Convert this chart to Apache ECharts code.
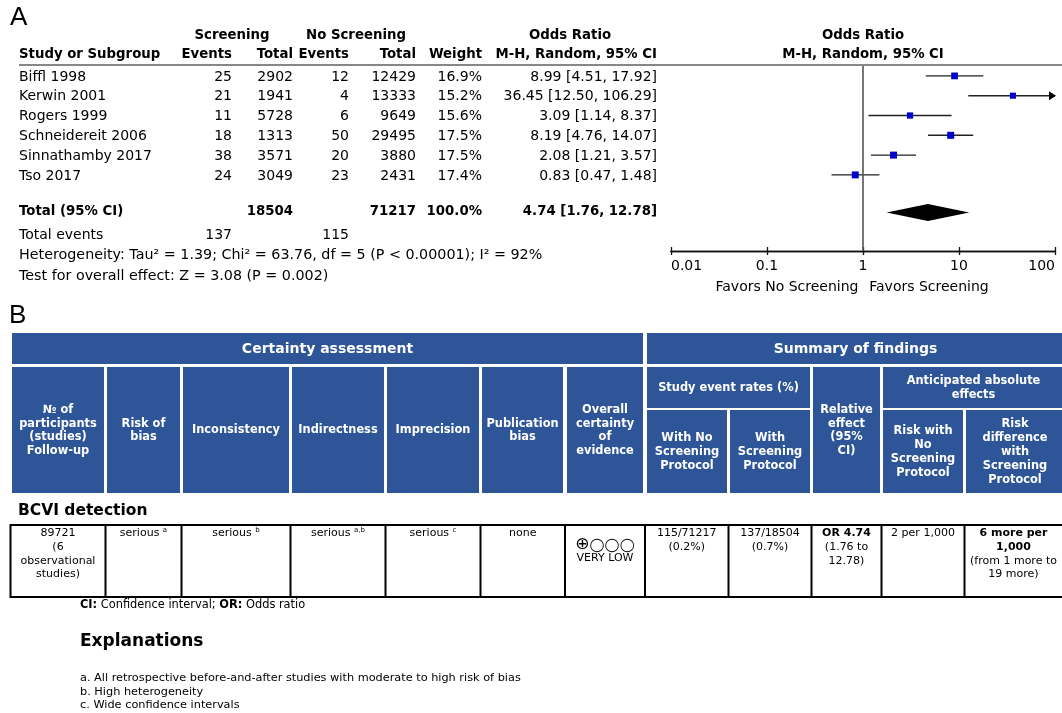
<!DOCTYPE html>
<html><head><meta charset="utf-8">
<script src="https://cdn.jsdelivr.net/npm/echarts@6/dist/echarts.min.js"></script>
<style>html,body{margin:0;padding:0;background:#fff}#c{width:1062px;height:713px}</style>
</head><body><div id="c"></div>
<script>
// ---------- data ----------
const studies   = ['Biffl 1998','Kerwin 2001','Rogers 1999','Schneidereit 2006','Sinnathamby 2017','Tso 2017'];
const scrEvents = [25,21,11,18,38,24];
const scrTotal  = [2902,1941,5728,1313,3571,3049];
const noEvents  = [12,4,6,50,20,23];
const noTotal   = [12429,13333,9649,29495,3880,2431];
const weights   = [16.9,15.2,15.6,17.5,17.5,17.4];
const orEst     = [8.99,36.45,3.09,8.19,2.08,0.83];
const orLo      = [4.51,12.50,1.14,4.76,1.21,0.47];
const orHi      = [17.92,106.29,8.37,14.07,3.57,1.48];
const pooledOR  = [4.74,1.76,12.78];          // estimate, lower, upper
const hetero    = ['1.39','63.76','5','0.00001','92'];
const overall   = ['3.08','0.002'];
const xTickValues = [0.01,0.1,1,10,100];
const xTickLabels = ['0.01','0.1','1','10','100'];
const certCols = ['№ of\nparticipants\n(studies)\nFollow-up','Risk of\nbias','Inconsistency','Indirectness','Imprecision','Publication\nbias','Overall\ncertainty\nof\nevidence'];
const sumCols  = ['Study event rates (%)','With No\nScreening\nProtocol','With\nScreening\nProtocol','Relative\neffect\n(95%\nCI)','Anticipated absolute\neffects','Risk with\nNo\nScreening\nProtocol','Risk\ndifference\nwith\nScreening\nProtocol'];
const outcomeName = 'BCVI detection';
const gradeRow = ['89721\n(6\nobservational\nstudies)','serious {s|a}','serious {s|b}','serious {s|a,b}','serious {s|c}','none','{p|⊕}{o|◯◯◯}','115/71217\n(0.2%)','137/18504\n(0.7%)','{b|OR 4.74}\n(1.76 to\n12.78)','2 per 1,000','{b|6 more per}\n{b|1,000}\n(from 1 more to\n19 more)'];
const certaintyLabel = 'VERY LOW';
const explanations = ['a. All retrospective before-and-after studies with moderate to high risk of bias','b. High heterogeneity','c. Wide confidence intervals'];

// ---------- helpers ----------
const FF = '"DejaVu Sans", Verdana, sans-serif';
function txt(x, y, text, o) {
  o = o || {};
  const st = {
    text: text, x: 0, y: 0,
    fill: o.color || '#000',
    fontFamily: o.family || FF,
    fontSize: o.size || 14,
    fontWeight: o.bold ? 'bold' : 'normal',
    align: o.align || 'left', textAlign: o.align || 'left',
    verticalAlign: o.valign || 'middle', textVerticalAlign: o.valign || 'middle'
  };
  if (o.lineHeight) st.lineHeight = o.lineHeight;
  if (o.rich) st.rich = o.rich;
  return {type: 'text', x: x, y: y, silent: true, z: 10, style: st};
}
function rect(x0, y0, x1, y1, style) {
  return {type: 'rect', silent: true, z: 1, shape: {x: x0, y: y0, width: x1 - x0, height: y1 - y0}, style: style};
}
function line(x1, y1, x2, y2, w, c) {
  return {type: 'line', silent: true, z: 2, shape: {x1: x1, y1: y1, x2: x2, y2: y2}, style: {stroke: c || '#000', lineWidth: w || 1}};
}

const g = [];
// ---------- panel A: table ----------
g.push(txt(10, 18, 'A', {family: '"Liberation Sans", Arial, sans-serif', size: 26}));
const HB = {bold: true, size: 13.3};
g.push(txt(232, 36, 'Screening', Object.assign({align: 'center'}, HB)));
g.push(txt(356, 36, 'No Screening', Object.assign({align: 'center'}, HB)));
g.push(txt(570, 36, 'Odds Ratio', Object.assign({align: 'center'}, HB)));
g.push(txt(863, 36, 'Odds Ratio', Object.assign({align: 'center'}, HB)));
const colX = {ev1: 232, tot1: 293, ev2: 349, tot2: 416, wt: 482, ci: 657};
const y2 = 55;
g.push(txt(19, y2, 'Study or Subgroup', HB));
g.push(txt(colX.ev1, y2, 'Events', Object.assign({align: 'right'}, HB)));
g.push(txt(colX.tot1, y2, 'Total', Object.assign({align: 'right'}, HB)));
g.push(txt(colX.ev2, y2, 'Events', Object.assign({align: 'right'}, HB)));
g.push(txt(colX.tot2, y2, 'Total', Object.assign({align: 'right'}, HB)));
g.push(txt(colX.wt, y2, 'Weight', Object.assign({align: 'right'}, HB)));
g.push(txt(colX.ci, y2, 'M-H, Random, 95% CI', Object.assign({align: 'right'}, HB)));
g.push(txt(863, y2, 'M-H, Random, 95% CI', Object.assign({align: 'center'}, HB)));
g.push(line(19, 65, 1062, 65, 1.2, '#111'));

const R = {size: 14};
const rowStep = 19.8;
studies.forEach(function (s, i) {
  const y = 76.9 + i * rowStep;
  g.push(txt(19, y, s, R));
  g.push(txt(colX.ev1, y, String(scrEvents[i]), Object.assign({align: 'right'}, R)));
  g.push(txt(colX.tot1, y, String(scrTotal[i]), Object.assign({align: 'right'}, R)));
  g.push(txt(colX.ev2, y, String(noEvents[i]), Object.assign({align: 'right'}, R)));
  g.push(txt(colX.tot2, y, String(noTotal[i]), Object.assign({align: 'right'}, R)));
  g.push(txt(colX.wt, y, weights[i].toFixed(1) + '%', Object.assign({align: 'right'}, R)));
  g.push(txt(colX.ci, y, orEst[i].toFixed(2) + ' [' + orLo[i].toFixed(2) + ', ' + orHi[i].toFixed(2) + ']', Object.assign({align: 'right'}, R)));
});
const sum = function (a) { return a.reduce(function (p, c) { return p + c; }, 0); };
const yT = 212;
g.push(txt(19, yT, 'Total (95% CI)', HB));
g.push(txt(colX.tot1, yT, String(sum(scrTotal)), Object.assign({align: 'right'}, HB)));
g.push(txt(colX.tot2, yT, String(sum(noTotal)), Object.assign({align: 'right'}, HB)));
g.push(txt(colX.wt, yT, '100.0%', Object.assign({align: 'right'}, HB)));
g.push(txt(colX.ci, yT, pooledOR[0].toFixed(2) + ' [' + pooledOR[1].toFixed(2) + ', ' + pooledOR[2].toFixed(2) + ']', Object.assign({align: 'right'}, HB)));
g.push(txt(19, 235, 'Total events', R));
g.push(txt(colX.ev1, 235, String(sum(scrEvents)), Object.assign({align: 'right'}, R)));
g.push(txt(colX.ev2, 235, String(sum(noEvents)), Object.assign({align: 'right'}, R)));
g.push(txt(19, 255, 'Heterogeneity: Tau² = ' + hetero[0] + '; Chi² = ' + hetero[1] + ', df = ' + hetero[2] + ' (P < ' + hetero[3] + '); I² = ' + hetero[4] + '%', {size: 14.3}));
g.push(txt(19, 276, 'Test for overall effect: Z = ' + overall[0] + ' (P = ' + overall[1] + ')', {size: 14.3}));
g.push(txt(787, 287, 'Favors No Screening', Object.assign({align: 'center'}, R)));
g.push(txt(929, 287, 'Favors Screening', Object.assign({align: 'center'}, R)));

// ---------- panel B: GRADE table ----------
g.push(txt(9, 316, 'B', {family: '"Liberation Sans", Arial, sans-serif', size: 26}));
const BLUE = '#2E5597';
const RIGHT = 1064;
const hdr = [
  [12, 333, 643, 364, 'Certainty assessment', 14],
  [647, 333, RIGHT, 364, 'Summary of findings', 14],
  [12, 367, 104, 493, certCols[0]],
  [107, 367, 180, 493, certCols[1]],
  [183, 367, 289, 493, certCols[2]],
  [292, 367, 384, 493, certCols[3]],
  [387, 367, 479, 493, certCols[4]],
  [482, 367, 563, 493, certCols[5]],
  [567, 367, 643, 493, certCols[6]],
  [647, 367, 810, 408, sumCols[0]],
  [647, 410, 727, 493, sumCols[1]],
  [730, 410, 810, 493, sumCols[2]],
  [813, 367, 880, 493, sumCols[3]],
  [883, 367, RIGHT, 408, sumCols[4]],
  [883, 410, 963, 493, sumCols[5]],
  [966, 410, RIGHT, 493, sumCols[6]]
];
hdr.forEach(function (h) {
  g.push(rect(h[0], h[1], h[2], h[3], {fill: BLUE}));
  const cx = (h[0] + Math.min(h[2], 1064)) / 2;
  g.push(txt(cx, (h[1] + h[3]) / 2 + 0.5, h[4], {align: 'center', bold: true, size: h[5] || 11.4, lineHeight: 13.8, color: '#fff'}));
});

g.push(txt(18, 510.5, outcomeName, {bold: true, size: 15.5}));
const boxT = 525, boxB = 597;
g.push(rect(10.5, boxT, RIGHT, boxB, {fill: 'none', stroke: '#000', lineWidth: 2}));
const divX = [105.5, 181.5, 290.5, 385.5, 480.5, 565, 645, 728.5, 811.5, 881.5, 964.5];
divX.forEach(function (x) { g.push(line(x, boxT, x, boxB, 2, '#000')); });
const cellEdges = [10.5].concat(divX, [1062.5]);
const LH = 13.7;
const richSt = {
  b: {fontFamily: FF, fontSize: 11, fontWeight: 'bold', lineHeight: LH},
  s: {fontFamily: FF, fontSize: 7, lineHeight: 7, verticalAlign: 'top'},
  p: {fontFamily: FF, fontSize: 17, lineHeight: 17},
  o: {fontFamily: FF, fontSize: 13.5, lineHeight: 17}
};
gradeRow.forEach(function (t, i) {
  const cx = (cellEdges[i] + cellEdges[i + 1]) / 2;
  if (i === 6) {
    g.push(txt(cx, 545, t, {align: 'center', size: 13.5, rich: richSt}));
    g.push(txt(cx, 558, certaintyLabel, {align: 'center', size: 11}));
  } else {
    g.push(txt(cx, 533.5 - LH / 2, t, {align: 'center', valign: 'top', size: 11, lineHeight: LH, rich: richSt}));
  }
});

g.push(txt(80, 605, '{b|CI:} Confidence interval; {b|OR:} Odds ratio', {size: 11.4, lineHeight: 13, rich: {b: {fontFamily: FF, fontSize: 11.4, fontWeight: 'bold', lineHeight: 13}}}));
g.push(txt(80, 642, 'Explanations', {bold: true, size: 17}));
explanations.forEach(function (e, i) { g.push(txt(80, [678, 692, 705][i], e, {size: 11.3})); });

// ---------- forest plot ----------
const totalRow = 6.9;
const fmt = function (v) {
  const i = xTickValues.findIndex(function (t) { return Math.abs(t - v) / t < 1e-6; });
  return i >= 0 ? xTickLabels[i] : '';
};
const axBase = {
  type: 'log', logBase: 10, min: 0.01, max: 100, gridIndex: 0, position: 'bottom',
  axisLine: {show: true, onZero: false, lineStyle: {color: '#111', width: 1.3}},
  splitLine: {show: false}
};
const option = {
  animation: false,
  backgroundColor: '#fff',
  grid: [{left: 671, top: 66, width: 384, height: 185, containLabel: false}],
  xAxis: [
    Object.assign({}, axBase, {
      axisTick: {show: true, length: 4, lineStyle: {color: '#111', width: 1.3}},
      axisLabel: {show: true, margin: 8, fontSize: 14, fontFamily: FF, color: '#000', alignMinLabel: 'left', alignMaxLabel: 'right', formatter: fmt}
    }),
    Object.assign({}, axBase, {
      axisTick: {show: true, inside: true, length: 4, lineStyle: {color: '#111', width: 1.3}},
      axisLabel: {show: false}
    })
  ],
  yAxis: [{type: 'value', inverse: true, min: -0.5, max: 8.843, show: false, gridIndex: 0}],
  series: [
    {
      type: 'custom', name: 'ci', clip: false, z: 3,
      data: studies.map(function (s, i) { return [orLo[i], orHi[i], i]; }),
      encode: {x: [0, 1], y: 2},
      renderItem: function (params, api) {
        const lo = api.value(0), hi = api.value(1), y = api.value(2);
        const p1 = api.coord([lo, y]);
        const p2 = api.coord([Math.min(hi, 100), y]);
        const ch = [{type: 'line', shape: {x1: p1[0], y1: p1[1], x2: p2[0], y2: p2[1]}, style: {stroke: '#222', lineWidth: 1.4}}];
        if (hi > 100) {
          ch.push({type: 'polygon', shape: {points: [[p2[0] + 1, p2[1]], [p2[0] - 6, p2[1] - 4.5], [p2[0] - 6, p2[1] + 4.5]]}, style: {fill: '#000'}});
        }
        return {type: 'group', children: ch};
      }
    },
    {
      type: 'scatter', name: 'or', z: 5,
      data: studies.map(function (s, i) { return [orEst[i], i, weights[i]]; }),
      symbol: 'rect',
      symbolSize: function (d) { return d[2] * 0.4; },
      itemStyle: {color: '#0000CC', opacity: 1},
      markLine: {
        silent: true, symbol: ['none', 'none'], label: {show: false}, animation: false,
        lineStyle: {color: '#555', width: 1.6, type: 'solid'},
        data: [{xAxis: 1}]
      }
    },
    {
      type: 'custom', name: 'pooled', clip: false, z: 4,
      data: [[pooledOR[1], pooledOR[0], pooledOR[2], totalRow]],
      encode: {x: [0, 1, 2], y: 3},
      renderItem: function (params, api) {
        const y = api.value(3);
        const a = api.coord([api.value(0), y]);
        const m = api.coord([api.value(1), y]);
        const b = api.coord([api.value(2), y]);
        return {type: 'polygon', shape: {points: [[a[0], a[1]], [m[0], m[1] - 8.5], [b[0], b[1]], [m[0], m[1] + 8.5]]}, style: {fill: '#000'}};
      }
    }
  ],
  graphic: {elements: g}
};
const chart = echarts.init(document.getElementById('c'), null, {renderer: 'canvas'});
chart.setOption(option);
</script>
</body></html>
